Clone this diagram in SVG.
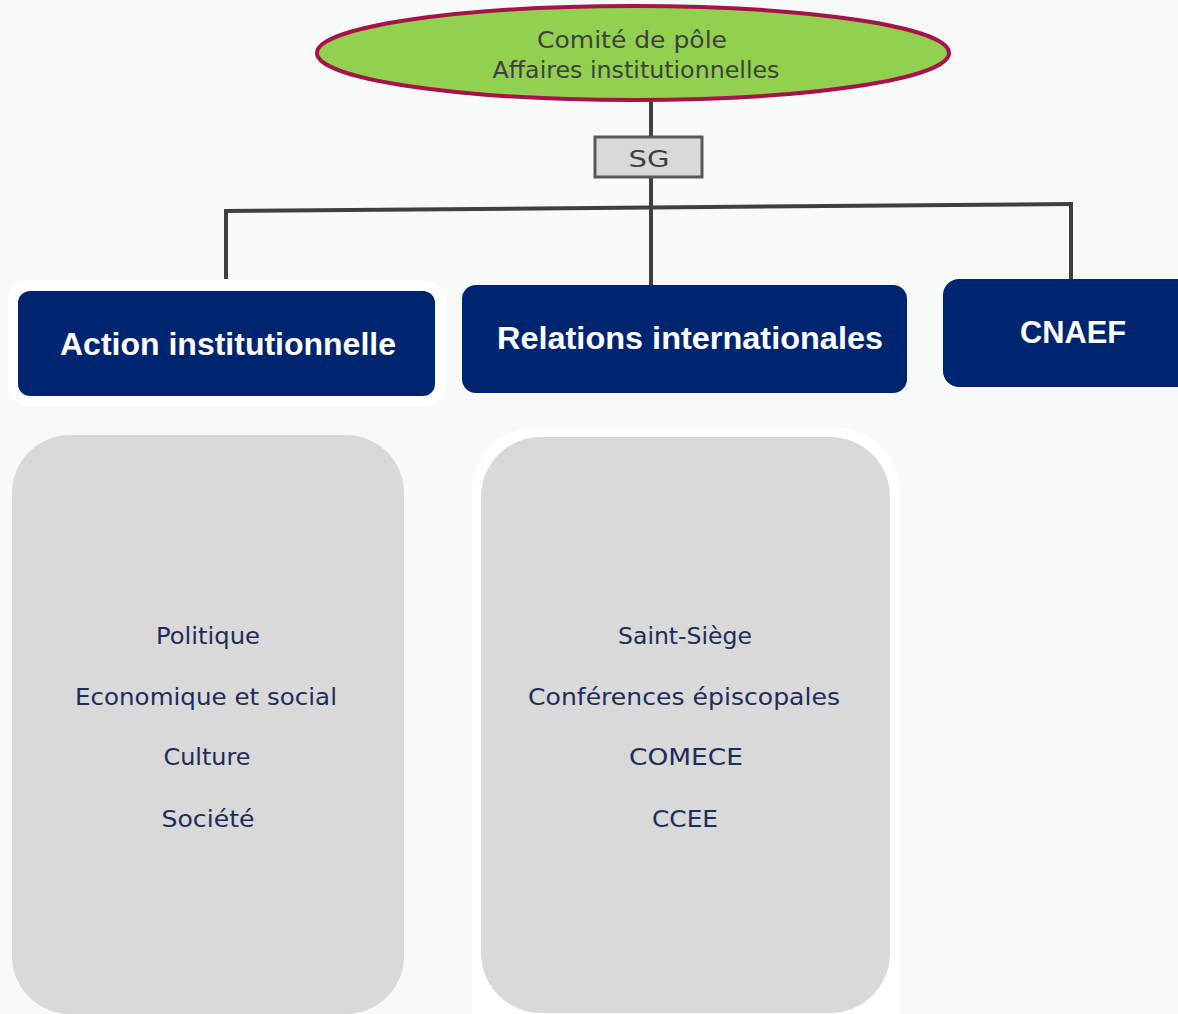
<svg xmlns="http://www.w3.org/2000/svg" width="1178" height="1014" viewBox="0 0 1178 1014">
<defs>
<style>
.bg{fill:#f8f9f9}
.halo{fill:#ffffff}
.head{fill:#002570}
.headtxt{fill:#ffffff;font-family:"Liberation Sans",Arial,sans-serif;font-weight:bold;font-size:32px;text-anchor:middle}
.panel{fill:#d9d9d9}
.item{fill:#1f2d5a;font-family:"DejaVu Sans","Liberation Sans",sans-serif;font-size:23px;text-anchor:middle}
.top{fill:#404040;font-family:"DejaVu Sans","Liberation Sans",sans-serif;font-size:23px;text-anchor:middle}
.conn{stroke:#404040;stroke-width:4;fill:none}
</style>
</defs>
<rect class="bg" x="0" y="0" width="1178" height="1014"/>
<g id="connectors">
<line class="conn" x1="651" y1="100" x2="651" y2="138"/>
<line class="conn" x1="651" y1="177" x2="651" y2="286"/>
<line class="conn" x1="224" y1="211" x2="1072" y2="204"/>
<line class="conn" x1="226" y1="209" x2="226" y2="279"/>
<line class="conn" x1="1071" y1="202" x2="1071" y2="279"/>
</g>
<g id="comite">
<ellipse cx="633" cy="53" rx="316" ry="47" fill="#92d050" stroke="#a8124a" stroke-width="4"/>
<text class="top" x="632" y="48" textLength="190" lengthAdjust="spacingAndGlyphs">Comité de pôle</text>
<text class="top" x="636" y="78" textLength="287" lengthAdjust="spacingAndGlyphs">Affaires institutionnelles</text>
</g>
<g id="sg">
<rect x="595" y="137" width="107" height="40" fill="#d9d9d9" stroke="#595959" stroke-width="3"/>
<text class="top" x="649" y="167" font-size="25" textLength="41" lengthAdjust="spacingAndGlyphs">SG</text>
</g>
<g id="action">
<rect class="halo" x="8" y="281" width="437" height="125" rx="20"/>
<rect class="head" x="18" y="291" width="417" height="105" rx="12"/>
<text class="headtxt" x="228" y="355" textLength="336" lengthAdjust="spacingAndGlyphs">Action institutionnelle</text>
</g>
<g id="relations">
<rect class="head" x="462" y="285" width="445" height="108" rx="14"/>
<text class="headtxt" x="690" y="349" textLength="386" lengthAdjust="spacingAndGlyphs">Relations internationales</text>
</g>
<g id="cnaef">
<rect class="head" x="943" y="279" width="250" height="108" rx="16"/>
<text class="headtxt" x="1073" y="343" textLength="106" lengthAdjust="spacingAndGlyphs">CNAEF</text>
</g>
<g id="panel-action">
<rect class="panel" x="12" y="435" width="392" height="579" rx="58"/>
<text class="item" x="208" y="644" textLength="104" lengthAdjust="spacingAndGlyphs">Politique</text>
<text class="item" x="206" y="705" textLength="262" lengthAdjust="spacingAndGlyphs">Economique et social</text>
<text class="item" x="207" y="765" textLength="87" lengthAdjust="spacingAndGlyphs">Culture</text>
<text class="item" x="208" y="827" textLength="93" lengthAdjust="spacingAndGlyphs">Société</text>
</g>
<g id="panel-relations">
<path class="halo" d="M472 1014 V492 a64 64 0 0 1 64 -64 H836 a64 64 0 0 1 64 64 V1014 Z"/>
<path class="panel" d="M481 953 V497 a60 60 0 0 1 60 -60 H830 a60 60 0 0 1 60 60 V953 a60 60 0 0 1 -60 60 H541 a60 60 0 0 1 -60 -60 Z"/>
<text class="item" x="685" y="644" textLength="134" lengthAdjust="spacingAndGlyphs">Saint-Siège</text>
<text class="item" x="684" y="705" textLength="312" lengthAdjust="spacingAndGlyphs">Conférences épiscopales</text>
<text class="item" x="686" y="765" textLength="114" lengthAdjust="spacingAndGlyphs">COMECE</text>
<text class="item" x="685" y="827" textLength="66" lengthAdjust="spacingAndGlyphs">CCEE</text>
</g>
</svg>
